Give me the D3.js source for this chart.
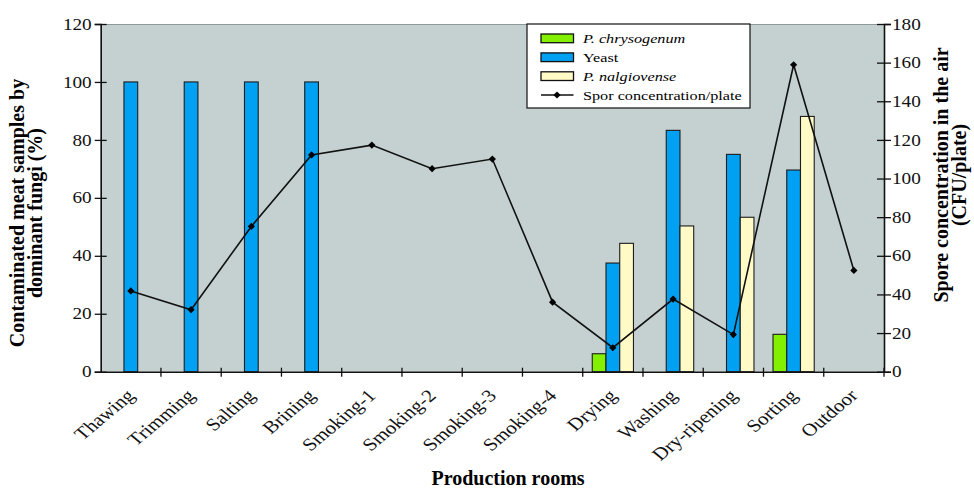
<!DOCTYPE html>
<html>
<head>
<meta charset="utf-8">
<script src="https://cdn.jsdelivr.net/npm/d3@7/dist/d3.min.js"></script>
<style>
  body { margin: 0; background: #fff; }
  svg { display: block; font-family: "Liberation Serif", "Times New Roman", serif; }
</style>
</head>
<body>
<script>
// Data
var rooms = ["Thawing", "Trimming", "Salting", "Brining", "Smoking-1", "Smoking-2", "Smoking-3",
             "Smoking-4", "Drying", "Washing", "Dry-ripening", "Sorting", "Outdoor"];
var chrysogenum = [0, 0, 0, 0, 0, 0, 0, 0, 6.2, 0, 0, 12.9, 0];
var yeast = [100, 100, 100, 100, 0, 0, 0, 0, 37.5, 83.3, 75, 69.6, 0];
var nalgiovense = [0, 0, 0, 0, 0, 0, 0, 0, 44.3, 50.3, 53.3, 88.1, 0];
var spores = [41.8, 32.1, 75.2, 112.2, 117.3, 105.1, 110.1, 36, 12.4, 37.6, 19.2, 158.9, 52.4];
var leftTicks = [0, 20, 40, 60, 80, 100, 120];
var rightTicks = [0, 20, 40, 60, 80, 100, 120, 140, 160, 180];

var seriesKeys = ["chrysogenum", "yeast", "nalgiovense"];
var seriesNames = { chrysogenum: "P. chrysogenum", yeast: "Yeast", nalgiovense: "P. nalgiovense" };
var seriesData = { chrysogenum: chrysogenum, yeast: yeast, nalgiovense: nalgiovense };
var colors = { chrysogenum: "#82f000", yeast: "#00a0f2", nalgiovense: "#fffac6" };

var width = 974, height = 488;
var plot = { left: 100.7, right: 884, top: 24, bottom: 371.7 };
// the source figure's text is stretched sideways
var sx = 1.2;

var svg = d3.select("body").append("svg")
    .attr("width", width)
    .attr("height", height);

// Scales
var x0 = d3.scaleBand()
    .domain(rooms)
    .range([plot.left, plot.right])
    .padding(0);
var x1 = d3.scaleBand()
    .domain(seriesKeys)
    .range([-20.6, 20.6]);
var yL = d3.scaleLinear().domain([0, 120]).range([plot.bottom, plot.top]);
var yR = d3.scaleLinear().domain([0, 180]).range([plot.bottom, plot.top]);

// Plot background
svg.append("rect")
    .attr("x", plot.left)
    .attr("y", plot.top)
    .attr("width", plot.right - plot.left)
    .attr("height", plot.bottom - plot.top)
    .attr("fill", "#c5d0d0");
svg.append("line")
    .attr("x1", plot.left).attr("x2", plot.right)
    .attr("y1", plot.top + 0.5).attr("y2", plot.top + 0.5)
    .attr("stroke", "#8e9a9a");

// Bars
var rows = rooms.map(function (r, i) {
    return { room: r, bars: seriesKeys.map(function (k) { return { key: k, value: seriesData[k][i] }; }) };
});
svg.append("g")
    .selectAll("g")
    .data(rows)
    .enter().append("g")
        .attr("transform", function (d) { return "translate(" + (x0(d.room) + x0.bandwidth() / 2) + ",0)"; })
    .selectAll("rect")
    .data(function (d) { return d.bars.filter(function (b) { return b.value > 0; }); })
    .enter().append("rect")
        .attr("x", function (d) { return x1(d.key); })
        .attr("y", function (d) { return yL(d.value); })
        .attr("width", x1.bandwidth())
        .attr("height", function (d) { return yL(0) - yL(d.value); })
        .attr("fill", function (d) { return colors[d.key]; })
        .attr("stroke", "#1c1c1c")
        .attr("stroke-width", 1.1);

// Spore line
var cx = function (i) { return x0(rooms[i]) + x0.bandwidth() / 2; };
var line = d3.line()
    .x(function (d, i) { return cx(i); })
    .y(function (d) { return yR(d); });
svg.append("path")
    .datum(spores)
    .attr("d", line)
    .attr("fill", "none")
    .attr("stroke", "#111")
    .attr("stroke-width", 1.6);
var diamond = d3.symbol().type(d3.symbolSquare).size(26);
svg.append("g")
    .selectAll("path")
    .data(spores)
    .enter().append("path")
        .attr("d", diamond)
        .attr("transform", function (d, i) { return "translate(" + cx(i) + "," + yR(d) + ") rotate(45)"; })
        .attr("fill", "#000");

// Left axis
var gL = svg.append("g")
    .attr("transform", "translate(" + plot.left + ",0)")
    .call(d3.axisLeft(yL).tickValues(leftTicks).tickSize(6));
gL.selectAll(".tick line").attr("x2", 6).attr("x1", -6);
gL.selectAll(".tick text").attr("x", -9 / sx).attr("transform", "scale(" + sx + ",1)");

// Right axis
var gR = svg.append("g")
    .attr("transform", "translate(" + plot.right + ",0)")
    .call(d3.axisRight(yR).tickValues(rightTicks).tickSize(7));
gR.selectAll(".tick line").attr("x1", -7);
gR.selectAll(".tick text").attr("x", 8 / sx).attr("transform", "scale(" + sx + ",1)");

// Bottom axis: labels at room centres, ticks at band boundaries
var gB = svg.append("g")
    .attr("transform", "translate(0," + plot.bottom + ")")
    .call(d3.axisBottom(x0).tickSize(0).tickPadding(0));
gB.selectAll(".tick text")
    .attr("text-anchor", "end")
    .attr("dy", null)
    .attr("y", 0)
    .attr("transform", "translate(5,25) scale(" + sx + ",1) rotate(-45)");
var bounds = rooms.map(function (r) { return x0(r); }).concat([plot.right]);
gB.selectAll(".bound")
    .data(bounds.slice(1))
    .enter().append("line")
        .attr("class", "bound")
        .attr("x1", function (d) { return d; })
        .attr("x2", function (d) { return d; })
        .attr("y1", -4)
        .attr("y2", 5);

[gL, gR, gB].forEach(function (g) {
    g.selectAll("path.domain").attr("stroke", "#111").attr("stroke-width", 1.6);
    g.selectAll(".tick line, .bound").attr("stroke", "#111").attr("stroke-width", 1.3);
    g.selectAll("text").attr("font-family", "Liberation Serif").attr("font-size", 16).attr("fill", "#111");
});
gB.selectAll(".tick text").attr("font-size", 17.6);

// Axis titles
var leftTitle = svg.append("text")
    .attr("transform", "translate(24,213) rotate(-90)")
    .attr("text-anchor", "middle")
    .attr("font-weight", "bold")
    .attr("font-size", 20);
leftTitle.append("tspan").attr("x", 0).attr("y", 0).text("Contaminated meat samples by");
leftTitle.append("tspan").attr("x", 0).attr("y", 17.5).text("dominant fungi (%)");

var rightTitle = svg.append("text")
    .attr("transform", "translate(948,175) rotate(-90)")
    .attr("text-anchor", "middle")
    .attr("font-weight", "bold")
    .attr("font-size", 20);
rightTitle.append("tspan").attr("x", 0).attr("y", 0).text("Spore concentration in the air");
rightTitle.append("tspan").attr("x", 0).attr("y", 17.5).text("(CFU/plate)");

svg.append("text")
    .attr("x", 508)
    .attr("y", 485)
    .attr("text-anchor", "middle")
    .attr("font-weight", "bold")
    .attr("font-size", 20)
    .text("Production rooms");

// Legend
var legend = svg.append("g").attr("transform", "translate(527,24)");
legend.append("rect")
    .attr("width", 223)
    .attr("height", 84)
    .attr("fill", "#fff")
    .attr("stroke", "#111")
    .attr("stroke-width", 1.2);
var items = seriesKeys.concat(["spores"]);
var li = legend.selectAll("g.item")
    .data(items)
    .enter().append("g")
        .attr("class", "item")
        .attr("transform", function (d, i) { return "translate(0," + (14.3 + i * 18.9) + ")"; });
li.filter(function (d) { return d !== "spores"; }).append("rect")
    .attr("x", 14)
    .attr("y", -4.3)
    .attr("width", 32.5)
    .attr("height", 8.7)
    .attr("fill", function (d) { return colors[d]; })
    .attr("stroke", "#111")
    .attr("stroke-width", 1.3);
var sp = li.filter(function (d) { return d === "spores"; });
sp.append("line")
    .attr("x1", 14).attr("x2", 46.5)
    .attr("stroke", "#111").attr("stroke-width", 1.6);
sp.append("path")
    .attr("d", diamond)
    .attr("transform", "translate(30,0) rotate(45)");
li.append("text")
    .attr("transform", "translate(56,4.8) scale(" + sx + ",1)")
    .attr("font-size", 13.5)
    .attr("font-style", function (d) { return d === "yeast" || d === "spores" ? "normal" : "italic"; })
    .text(function (d) { return d === "spores" ? "Spor concentration/plate" : seriesNames[d]; });
</script>
</body>
</html>
